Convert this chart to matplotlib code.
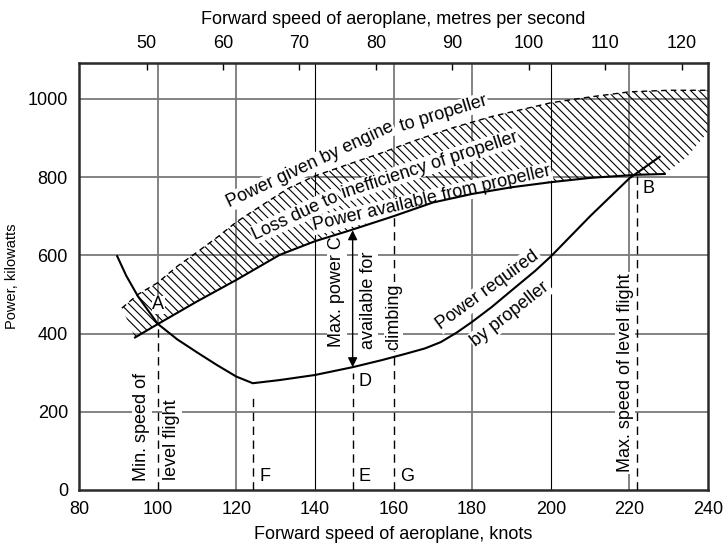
import numpy as np
import matplotlib
matplotlib.use("Agg")
import matplotlib.pyplot as plt

plt.rcParams['font.family'] = ['Liberation Sans', 'DejaVu Sans']
plt.rcParams['hatch.linewidth'] = 0.8
plt.rcParams['hatch.color'] = 'black'

# power given by engine to propeller (upper edge of hatched band)
knots_engine = [90.9, 95, 100, 105, 110, 115, 120, 125, 133, 140, 150, 157,
                165, 175, 185, 200, 210, 220, 230, 240]
kw_engine = [465, 500, 530, 572, 608, 645, 685, 718, 770, 803, 838, 862,
             892, 926, 955, 990, 1005, 1018, 1022, 1022]

# power available from propeller
knots_avail = [94.25, 100, 110, 120, 131, 140, 149, 160, 170, 180, 190,
               200, 210, 222, 229]
kw_avail = [390, 424, 482, 537, 601, 636, 664, 700, 735, 757, 774,
            787, 798, 806, 808]

# right-hand end of the hatched band (no line drawn)
knots_band_end = [240, 234.7]
kw_band_end = [916, 852]

# power required by propeller
knots_req = [89.7, 92, 95, 100, 105, 110, 115, 120, 124.2, 131, 140, 149.6,
             157, 163, 168, 172, 176, 180, 185, 190, 196, 200, 210, 220, 227.7]
kw_req = [598, 548, 495, 425, 385, 352, 320, 290, 273, 281, 294, 314,
          332, 348, 362, 378, 402, 430, 468, 510, 560, 597, 700, 797, 852]

# marked points
pt_A = (100, 424)
pt_B = (222, 806)
pt_C = (149.6, 664)
pt_D = (149.6, 314)
pt_F = (124.2, 273)
pt_G = (160, 700)

x_ticks = [80, 100, 120, 140, 160, 180, 200, 220, 240]
y_ticks = [0, 200, 400, 600, 800, 1000]
ms_ticks = [50, 60, 70, 80, 90, 100, 110, 120]
KNOT = 0.514444

fig = plt.figure(figsize=(7.23, 5.49), dpi=100)
ax = fig.add_axes([0.1093, 0.1075, 0.8700, 0.7772])
ax.set_xlim(80, 240)
ax.set_ylim(0, 1091)

grid_kw = dict(color='#7a7a7a', lw=1.3, zorder=1)
for y in y_ticks[1:]:
    ax.axhline(y, **grid_kw)
for x in [120, 180, 220]:
    ax.axvline(x, **grid_kw)
for x in [140, 200]:
    ax.axvline(x, color='black', lw=0.8, zorder=1)
# grid at 100 and 160 turns into dashed drop lines below the curves
ax.vlines(100, pt_A[1], 1091, **grid_kw)
ax.vlines(160, pt_G[1], 1091, **grid_kw)

dash = dict(color='black', lw=1.0, linestyle=(0, (6, 4)), zorder=3)
ax.vlines(pt_A[0], 0, pt_A[1], **dash)
ax.vlines(pt_F[0], 0, 243, **dash)
ax.vlines(pt_D[0], 0, 299, **dash)
ax.vlines(pt_G[0], 0, pt_G[1], **dash)
ax.vlines(pt_B[0], 0, pt_B[1], **dash)

# hatched loss band
band_x = knots_engine + knots_band_end + knots_avail[::-1]
band_y = kw_engine + kw_band_end + kw_avail[::-1]
ax.fill(band_x, band_y, facecolor='none', edgecolor='black', linewidth=0,
        hatch='\\\\\\\\', zorder=2)
ax.plot(knots_engine, kw_engine, color='black', lw=1.0,
        linestyle=(0, (4, 3)), zorder=3)

ax.plot(knots_avail, kw_avail, color='black', lw=1.5, zorder=4.5)
ax.plot(knots_req, kw_req, color='black', lw=1.5, zorder=4.5)

ax.annotate('', xy=(pt_C[0], pt_C[1]), xytext=(pt_D[0], pt_D[1]),
            arrowprops=dict(arrowstyle='<|-|>', color='black', lw=1.0,
                            mutation_scale=14, shrinkA=0, shrinkB=0),
            zorder=5)

fs = 13
wbox = dict(facecolor='white', edgecolor='none', pad=1.0)
bbox_band = dict(facecolor='white', edgecolor='none', pad=0.6)
txt = dict(fontsize=fs, ha='center', va='center', rotation_mode='anchor',
           zorder=4)

ax.text(138.8, 832, 'Power given by engine', rotation=25, bbox=bbox_band,
        **txt)
ax.text(172.8, 962, 'to propeller', rotation=17, bbox=bbox_band, **txt)
ax.text(134.9, 700, 'Loss due to', rotation=25, bbox=bbox_band, **txt)
ax.text(169.3, 831, 'inefficiency of propeller', rotation=18,
        bbox=bbox_band, **txt)
ax.text(169.8, 745, 'Power available from propeller', rotation=13,
        bbox=bbox_band, **txt)
ax.text(184.0, 512, 'Power required', rotation=36, bbox=wbox, **txt)
ax.text(189.7, 450, 'by propeller', rotation=38, bbox=wbox, **txt)

ax.text(96.0, 162, 'Min. speed of', rotation=90, bbox=wbox, **txt)
ax.text(103.6, 128, 'level flight', rotation=90, bbox=wbox, **txt)
ax.text(145.6, 507, 'Max. power C', rotation=90, bbox=wbox, **txt)
ax.text(153.6, 486, 'available for', rotation=90, bbox=wbox, **txt)
ax.text(160.0, 443, 'climbing', rotation=90, bbox=wbox, **txt)
ax.text(218.9, 299, 'Max. speed of level flight', rotation=90, bbox=wbox,
        **txt)

ax.text(100.2, 473, 'A', bbox=dict(facecolor='white', edgecolor='none',
                                   pad=0.5), **txt)
ax.text(224.9, 772, 'B', **txt)
ax.text(152.8, 277, 'D', **txt)
ax.text(127.3, 34, 'F', **txt)
ax.text(152.5, 34, 'E', **txt)
ax.text(163.4, 34, 'G', **txt)

ax.set_xticks(x_ticks)
ax.set_yticks(y_ticks)
ax.tick_params(length=0, labelsize=fs, pad=8)
ax.set_xlabel('Forward speed of aeroplane, knots', fontsize=fs, labelpad=6)
ax.set_ylabel('Power, kilowatts', fontsize=10.5, labelpad=6)
for s in ax.spines.values():
    s.set_linewidth(1.8)
    s.set_color('#2a2a2a')

top = ax.secondary_xaxis('top', functions=(lambda k: k * KNOT,
                                           lambda v: v / KNOT))
top.set_xticks(ms_ticks)
top.tick_params(direction='in', length=5, width=1.0, labelsize=fs, pad=8)
top.set_xlabel('Forward speed of aeroplane, metres per second', fontsize=fs,
               labelpad=8)

fig.savefig('out.png', dpi=100)
